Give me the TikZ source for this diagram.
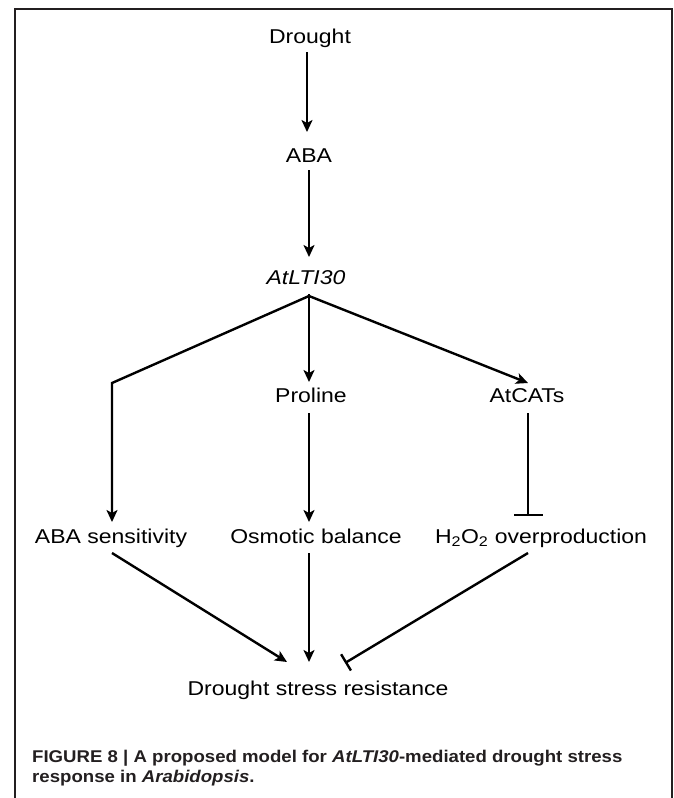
\documentclass[tikz,border=0pt]{standalone}
\usepackage{fontspec}
\setmainfont{Liberation Sans}
\newfontfamily\lblfont[FakeStretch=1.15]{Liberation Sans}
\newfontfamily\capfont[FakeStretch=1.095]{Liberation Sans}
\usetikzlibrary{arrows.meta}
\definecolor{framec}{HTML}{231F20}
\begin{document}
\begin{tikzpicture}[x=1pt,y=1pt,
  lbl/.style={font=\lblfont\fontsize{20}{24}\selectfont, inner sep=0pt, anchor=base},
  capt/.style={font=\capfont\bfseries\fontsize{17}{20}\selectfont, text=framec, inner sep=0pt, anchor=base west},
  conn/.style={line width=2.4pt},
  arr/.style={conn, -{Stealth[length=12pt,width=11pt,inset=3pt]}},
  inh/.style={conn, -{Bar[width=29pt,line width=2.4pt]}},
  inhd/.style={conn, -{Bar[width=19pt,line width=2.4pt]}},
]
\useasboundingbox (0,0) rectangle (674,-798);
\draw[framec, line width=2pt] (15,-805) -- (15,-9) -- (672,-9) -- (672,-805);

\node[lbl] (drought) at (310,-43) {Drought};
\node[lbl] (aba) at (309,-162) {ABA};
\node[lbl] (lti) at (306,-284) {\itshape AtLTI30};
\coordinate (br) at (309,-296);
\coordinate (lc) at (112,-383);
\node[lbl] (pro) at (311,-402) {Proline};
\node[lbl] (cat) at (527,-402) {AtCATs};
\node[lbl] (sens) at (111,-543) {ABA sensitivity};
\node[lbl] (osm) at (316,-543) {Osmotic balance};
\node[lbl] (h2o2) at (541,-543) {H\textsubscript{2}O\textsubscript{2} overproduction};
\node[lbl] (dsr) at (318,-695) {Drought stress resistance};

\draw[arr] ([xshift=-3pt,yshift=-9pt]drought.base) -- ([xshift=-2pt,yshift=30pt]aba.base);
\draw[arr] ([yshift=-8pt]aba.base) -- ([xshift=3pt,yshift=27pt]lti.base);
\draw[conn] ([xshift=3pt,yshift=-10pt]lti.base) -- (br);
\draw[arr] (br) -- (lc) -- ([xshift=1pt,yshift=21pt]sens.base);
\draw[arr] (br) -- ([xshift=-2pt,yshift=20pt]pro.base);
\draw[arr] (br) -- ([xshift=1pt,yshift=19pt]cat.base);
\draw[arr] ([xshift=-2pt,yshift=-11pt]pro.base) -- ([xshift=-7pt,yshift=21pt]osm.base);
\draw[inh] ([xshift=1pt,yshift=-11pt]cat.base) -- ([xshift=-13pt,yshift=27pt]h2o2.base);
\draw[arr] ([xshift=1pt,yshift=-10pt]sens.base) -- ([xshift=-31pt,yshift=33pt]dsr.base);
\draw[arr] ([xshift=-7pt,yshift=-10pt]osm.base) -- ([xshift=-9pt,yshift=33pt]dsr.base);
\draw[inhd] ([xshift=-13pt,yshift=-10pt]h2o2.base) -- ([xshift=27pt,yshift=32pt]dsr.base);

\node[capt] (cap1) at (32,-762) {FIGURE 8 | A proposed model for \textit{AtLTI30}-mediated drought stress};
\node[capt] (cap2) at (32,-782) {response in \textit{Arabidopsis}.};
\end{tikzpicture}
\end{document}
